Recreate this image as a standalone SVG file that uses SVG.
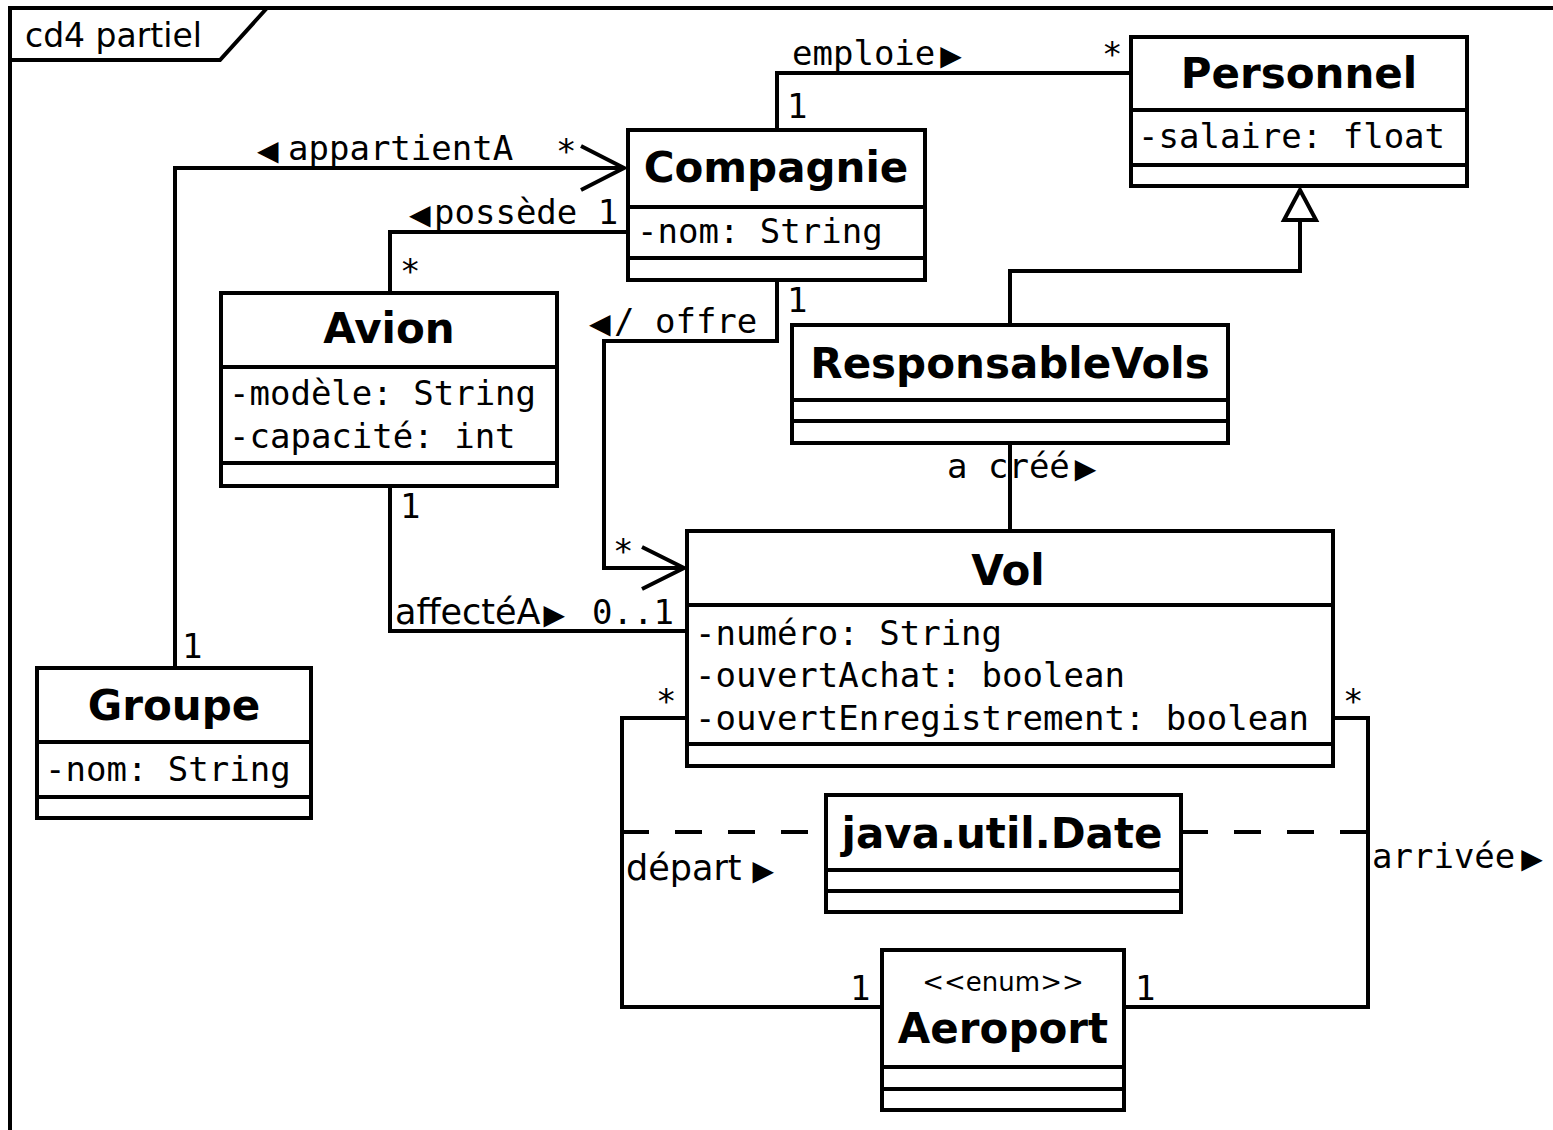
<svg xmlns="http://www.w3.org/2000/svg" width="1553" height="1130" viewBox="0 0 1553 1130">
  <style>
    .box { fill: #fff; stroke: #000; stroke-width: 4; }
    .sep { fill: none; stroke: #000; stroke-width: 4; }
    .ln { fill: none; stroke: #000; stroke-width: 4; stroke-linejoin: miter; }
    .dash { fill: none; stroke: #000; stroke-width: 4; stroke-dasharray: 27 26; }
    .nm { font-family: "DejaVu Sans", "Liberation Sans", sans-serif; font-weight: bold; font-size: 42px; text-anchor: middle; fill: #000; }
    .st { font-family: "DejaVu Sans", "Liberation Sans", sans-serif; font-size: 26px; text-anchor: middle; fill: #000; }
    .at { font-family: "DejaVu Sans Mono", "Liberation Mono", monospace; font-size: 34px; fill: #000; }
    .pl { font-family: "DejaVu Sans", "Liberation Sans", sans-serif; font-size: 35px; fill: #000; }
    .fr { font-family: "DejaVu Sans", "Liberation Sans", sans-serif; font-size: 33px; fill: #000; }
    .tri { font-family: "DejaVu Sans", sans-serif; font-size: 28px; }
  </style>

  <!-- diagram frame with its name tab -->
  <g id="frame">
    <path class="ln" d="M10,1130 V8 H1553"/>
    <path class="ln" d="M10,60 H220 L267,8"/>
    <text class="fr" x="25" y="47">cd4 partiel</text>
  </g>

  <!-- associations and generalization -->
  <g id="connectors">
    <!-- emploie -->
    <path class="ln" d="M777,130 V73 H1131"/>
    <text class="at" x="792" y="65">emploie<tspan class="tri" dx="5">▶</tspan></text>
    <text class="at" x="1102" y="66">*</text>
    <text class="at" x="787" y="118">1</text>

    <!-- appartientA -->
    <path class="ln" d="M175,668 V168 H624"/>
    <path class="ln" d="M581,146 L624,168 L581,190"/>
    <text class="at" x="257" y="160"><tspan class="tri">◀</tspan><tspan x="288">appartientA</tspan></text>
    <text class="at" x="556" y="163">*</text>
    <text class="at" x="182" y="658">1</text>

    <!-- possède -->
    <path class="ln" d="M628,232 H390 V293"/>
    <text class="at" x="409" y="224"><tspan class="tri">◀</tspan><tspan x="434">possède 1</tspan></text>
    <text class="at" x="400" y="283">*</text>

    <!-- / offre -->
    <path class="ln" d="M777,280 V341 H604 V568 H684"/>
    <path class="ln" d="M642,547 L684,568 L642,589"/>
    <text class="at" x="589" y="333"><tspan class="tri">◀</tspan><tspan x="614">/ offre</tspan></text>
    <text class="at" x="787" y="312">1</text>
    <text class="at" x="613" y="563">*</text>

    <!-- affectéA -->
    <path class="ln" d="M390,486 V631 H687"/>
    <text class="pl" x="395" y="624">affectéA<tspan class="tri" dx="3">▶</tspan></text>
    <text class="at" x="592" y="624">0..1</text>
    <text class="at" x="400" y="518">1</text>

    <!-- generalization ResponsableVols -> Personnel -->
    <path class="ln" d="M1010,325 V271 H1300 V220"/>
    <polygon class="box" points="1300,190 1284,220 1316,220"/>

    <!-- a créé -->
    <path class="ln" d="M1010,443 V531"/>
    <text class="at" x="947" y="478">a créé<tspan class="tri" dx="5">▶</tspan></text>

    <!-- départ -->
    <path class="ln" d="M687,718 H622 V1007 H882"/>
    <text class="at" x="656" y="713">*</text>
    <text class="at" x="850" y="1000">1</text>
    <text class="pl" x="626" y="880">départ<tspan class="tri" dx="11">▶</tspan></text>

    <!-- arrivée -->
    <path class="ln" d="M1333,718 H1368 V1007 H1124"/>
    <text class="at" x="1343" y="713">*</text>
    <text class="at" x="1135" y="1000">1</text>
    <text class="at" x="1372" y="868">arrivée<tspan class="tri" dx="6">▶</tspan></text>

    <!-- association class links to java.util.Date -->
    <path class="dash" d="M622,832 H826"/>
    <path class="dash" d="M1181,832 H1368"/>
  </g>

  <g id="Personnel">
    <rect class="box" x="1131" y="37" width="336" height="149"/>
    <path class="sep" d="M1131,110 H1467 M1131,165 H1467"/>
    <text class="nm" x="1299" y="88">Personnel</text>
    <text class="at" x="1138" y="148">-salaire: float</text>
  </g>

  <g id="Compagnie">
    <rect class="box" x="628" y="130" width="297" height="150"/>
    <path class="sep" d="M628,207 H925 M628,258 H925"/>
    <text class="nm" x="776" y="182">Compagnie</text>
    <text class="at" x="637" y="243">-nom: String</text>
  </g>

  <g id="Avion">
    <rect class="box" x="221" y="293" width="336" height="193"/>
    <path class="sep" d="M221,367 H557 M221,463 H557"/>
    <text class="nm" x="389" y="343">Avion</text>
    <text class="at" x="229" y="405">-modèle: String</text>
    <text class="at" x="229" y="448">-capacité: int</text>
  </g>

  <g id="ResponsableVols">
    <rect class="box" x="792" y="325" width="436" height="118"/>
    <path class="sep" d="M792,400 H1228 M792,421 H1228"/>
    <text class="nm" x="1010" y="378">ResponsableVols</text>
  </g>

  <g id="Vol">
    <rect class="box" x="687" y="531" width="646" height="235"/>
    <path class="sep" d="M687,605 H1333 M687,744 H1333"/>
    <text class="nm" x="1008" y="585">Vol</text>
    <text class="at" x="695" y="645">-numéro: String</text>
    <text class="at" x="695" y="687">-ouvertAchat: boolean</text>
    <text class="at" x="695" y="730">-ouvertEnregistrement: boolean</text>
  </g>

  <g id="Groupe">
    <rect class="box" x="37" y="668" width="274" height="150"/>
    <path class="sep" d="M37,742 H311 M37,797 H311"/>
    <text class="nm" x="174" y="720">Groupe</text>
    <text class="at" x="45" y="781">-nom: String</text>
  </g>

  <g id="java.util.Date">
    <rect class="box" x="826" y="795" width="355" height="117"/>
    <path class="sep" d="M826,870 H1181 M826,891 H1181"/>
    <text class="nm" x="1002" y="848">java.util.Date</text>
  </g>

  <g id="Aeroport">
    <rect class="box" x="882" y="950" width="242" height="160"/>
    <path class="sep" d="M882,1067 H1124 M882,1089 H1124"/>
    <text class="st" x="1003" y="991">&lt;&lt;enum&gt;&gt;</text>
    <text class="nm" x="1003" y="1043">Aeroport</text>
  </g>
</svg>
